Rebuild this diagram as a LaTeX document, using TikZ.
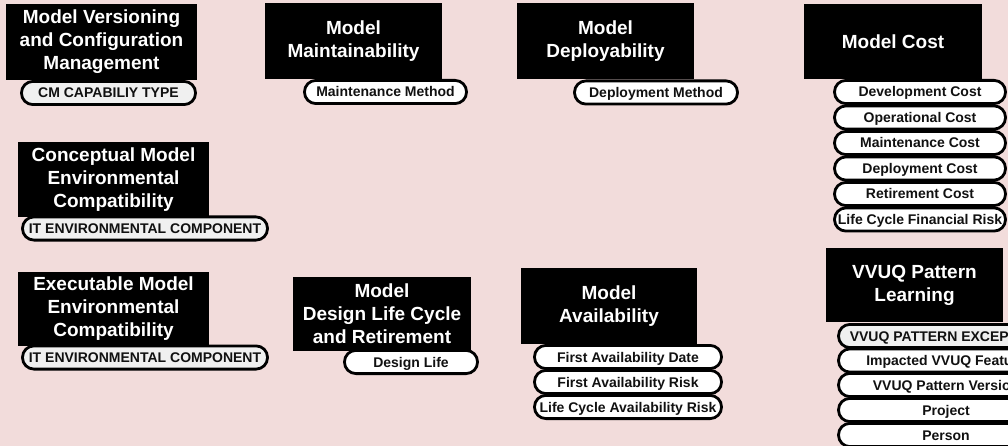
\documentclass[tikz,border=0pt]{standalone}
\usepackage{fontspec}
\setmainfont{Liberation Sans}
\definecolor{bgpink}{HTML}{F2DCDB}
\definecolor{pillgrey}{HTML}{F0F0F0}
\definecolor{pilltext}{HTML}{111111}
\tikzset{
  titlebox/.style={fill=black, text=white, font=\fontsize{19}{23}\selectfont\bfseries,
    align=center, inner sep=0pt},
  pill/.style={draw=black, line width=2.8pt, fill=white, rounded corners=11.4pt,
    text=pilltext, font=\fontsize{14}{16}\selectfont\bfseries, inner sep=0pt,
    minimum height=23.2pt, text height=10pt, text depth=0pt},
  greypill/.style={pill, fill=pillgrey}
}
\begin{document}
\begin{tikzpicture}[x=1pt,y=-1pt]
\fill[bgpink] (0,0) rectangle (1008,446);
\useasboundingbox (0,0) rectangle (1008,446);

% Row 1
\node[titlebox, minimum width=191pt, minimum height=76pt] (b1) at (101.5,42) {Model Versioning\\and Configuration\\Management};
\node[greypill, minimum width=174pt] (p1) at (108.5,93) {CM CAPABILIY TYPE};

\node[titlebox, minimum width=177pt, minimum height=76pt] (b2) at (353.5,41) {Model\\Maintainability};
\node[pill, minimum width=162pt] (p2) at (385.5,92) {Maintenance Method};

\node[titlebox, minimum width=177pt, minimum height=76pt] (b3) at (605.5,41) {Model\\Deployability};
\node[pill, minimum width=163pt] (p3) at (656,92.5) {Deployment Method};

\node[titlebox, minimum width=178pt, minimum height=75pt] (b4) at (893,41.5) {Model Cost};
\node[pill, minimum width=171pt] (c1) at (920,92) {Development Cost};
\node[pill, minimum width=171pt] (c2) at (920,117.5) {Operational Cost};
\node[pill, minimum width=171pt] (c3) at (920,143) {Maintenance Cost};
\node[pill, minimum width=171pt] (c4) at (920,168.5) {Deployment Cost};
\node[pill, minimum width=171pt] (c5) at (920,194) {Retirement Cost};
\node[pill, minimum width=171pt] (c6) at (920,219.5) {Life Cycle Financial Risk};

% Row 2
\node[titlebox, minimum width=191pt, minimum height=75pt] (b5) at (113.5,179.5) {Conceptual Model\\Environmental\\Compatibility};
\node[greypill, minimum width=245pt] (p5) at (145,228.5) {IT ENVIRONMENTAL COMPONENT};

% Row 3
\node[titlebox, minimum width=191pt, minimum height=74pt] (b6) at (113.5,309) {Executable Model\\Environmental\\Compatibility};
\node[greypill, minimum width=245pt] (p6) at (145,357.5) {IT ENVIRONMENTAL COMPONENT};

\node[titlebox, minimum width=178pt, minimum height=74pt] (b7) at (382,314) {Model\\Design Life Cycle\\and Retirement};
\node[pill, minimum width=133pt] (p7) at (411,362) {Design Life};

\node[titlebox, minimum width=176pt, minimum height=76pt] (b8) at (609,306) {Model\\Availability};
\node[pill, minimum width=187pt] (a1) at (628,357) {First Availability Date};
\node[pill, minimum width=187pt] (a2) at (628,382) {First Availability Risk};
\node[pill, minimum width=187pt] (a3) at (628,407) {Life Cycle Availability Risk};

\node[titlebox, minimum width=177pt, minimum height=74pt] (b9) at (914.5,285) {VVUQ Pattern\\Learning};
\node[greypill, minimum width=215pt] (v1) at (946,336) {VVUQ PATTERN EXCEPTION};
\node[pill, minimum width=215pt] (v2) at (946,360.5) {Impacted VVUQ Feature};
\node[pill, minimum width=215pt] (v3) at (946,385) {VVUQ Pattern Version};
\node[pill, minimum width=215pt] (v4) at (946,410) {Project};
\node[pill, minimum width=215pt] (v5) at (946,435) {Person};
\end{tikzpicture}
\end{document}
